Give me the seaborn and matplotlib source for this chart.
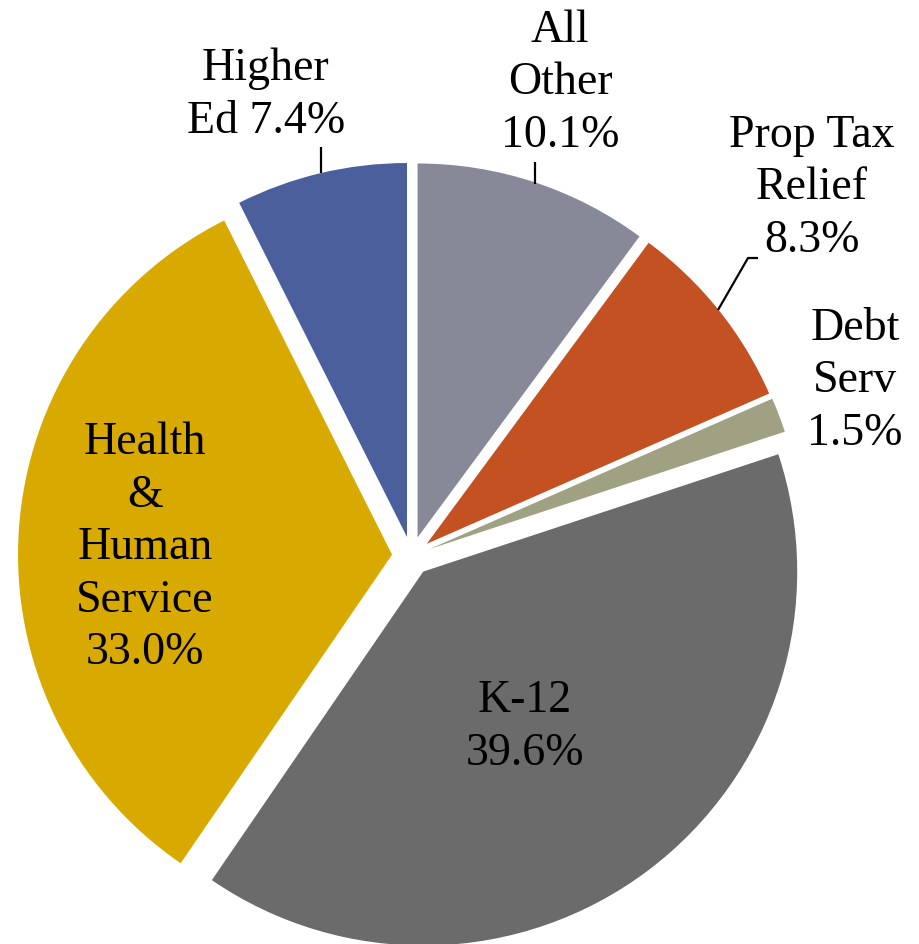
import matplotlib
matplotlib.use("Agg")
import matplotlib.pyplot as plt
import seaborn as sns

# General fund spending shares (percent), clockwise from 12 o'clock
categories = ["All Other", "Prop Tax Relief", "Debt Serv", "K-12",
              "Health & Human Service", "Higher Ed"]
shares = [10.1, 8.3, 1.5, 39.6, 33.0, 7.4]
label_names = ["All\nOther", "Prop Tax\nRelief", "Debt\nServ", "K-12",
               "Health\n&\nHuman\nService", "Higher\nEd"]
name_sep = ["\n", "\n", "\n", "\n", "\n", " "]
colors = ["#878898", "#c45122", "#a0a083", "#6b6b6b", "#d8aa00", "#4a5f9b"]

sns.set_theme(style="white")
plt.rcParams["font.family"] = ["Liberation Serif", "DejaVu Serif"]

W, H = 920, 944
fig = plt.figure(figsize=(W / 100, H / 100), dpi=100)
ax = fig.add_axes([0, 0, 1, 1])

def py(y):
    # pixel-style y (from top) to data y (from bottom)
    return H - y

cx, cy, r = 411.5, py(556), 374
ax.pie(shares, colors=colors, startangle=90, counterclock=False,
       explode=[19.5] * len(shares), radius=r, center=(cx, cy),
       wedgeprops=dict(linewidth=0))
ax.set_xlim(0, W)
ax.set_ylim(0, H)
ax.set_aspect("equal")
ax.axis("off")

label_pos = [(560, 83), (812, 188), (855, 381), (525, 727), (145, 548), (266, 95)]
fs = 33
for name, sep, val, (lx, ly) in zip(label_names, name_sep, shares, label_pos):
    ax.text(lx, py(ly), f"{name}{sep}{val:.1f}%", ha="center", va="center",
            fontsize=fs, color="black", linespacing=1.31, multialignment="center")

# leader lines
lw = 1.6
ax.plot([321.5, 321.5], [py(147), py(173)], color="black", lw=lw, solid_capstyle="butt")
ax.plot([535, 535], [py(162), py(184)], color="black", lw=lw, solid_capstyle="butt")
ax.plot([758, 748, 718], [py(258), py(258), py(310)], color="black", lw=lw,
        solid_capstyle="butt")

fig.savefig("out.png", dpi=100, facecolor="white")
